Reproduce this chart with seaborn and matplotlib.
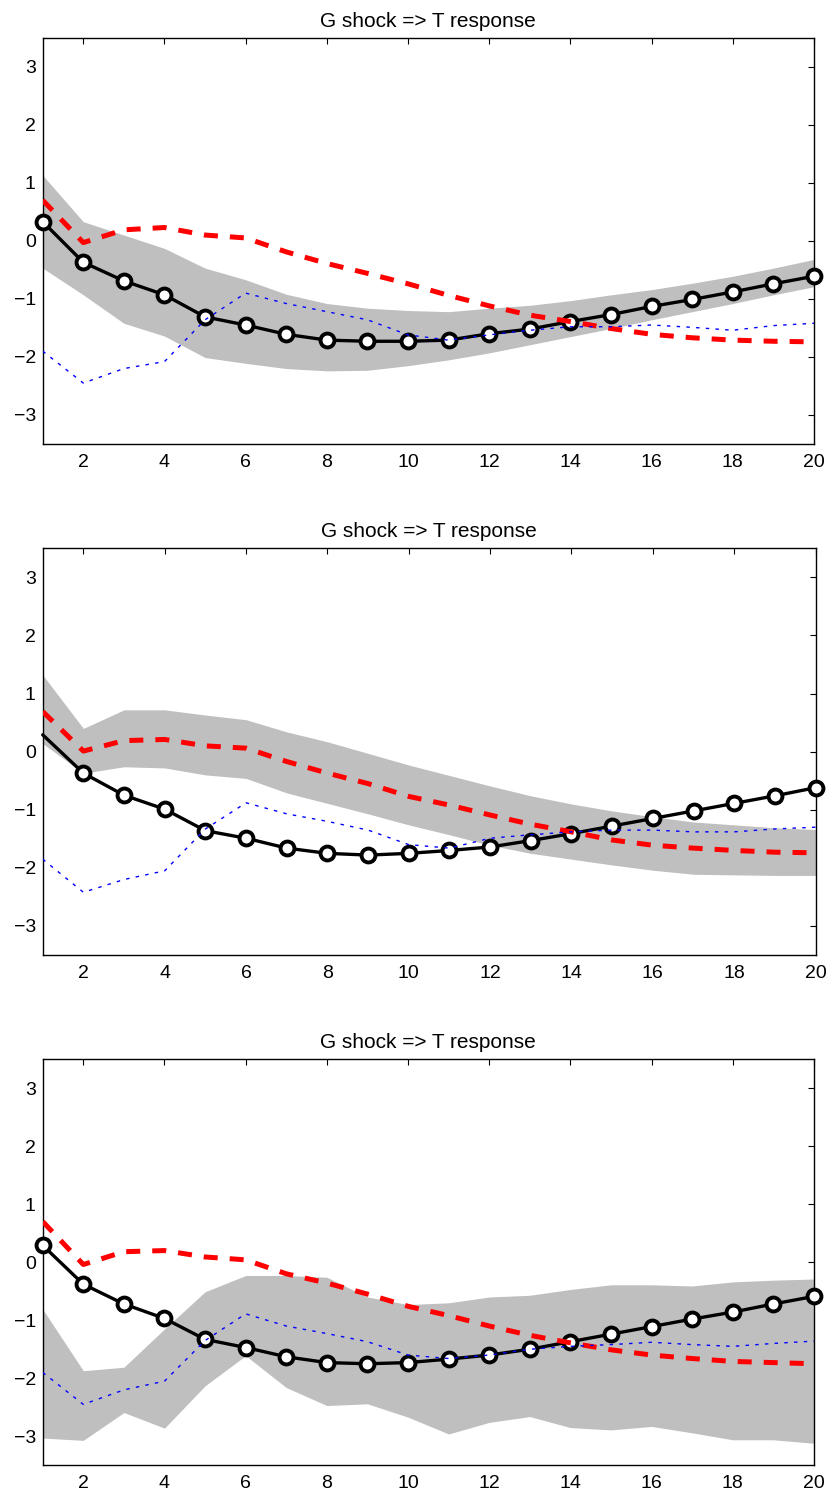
import numpy as np
import pandas as pd
import matplotlib
matplotlib.use("Agg")
import matplotlib.pyplot as plt
import seaborn as sns

# horizons
horizon = list(range(1, 21))

# point estimate (black line with circles)
resp_1 = [0.33, -0.37, -0.69, -0.93, -1.31, -1.45, -1.61, -1.71, -1.73, -1.73,
          -1.71, -1.60, -1.52, -1.39, -1.27, -1.13, -1.01, -0.88, -0.74, -0.61]
resp_2 = [0.29, -0.37, -0.75, -0.99, -1.36, -1.49, -1.66, -1.75, -1.78, -1.75,
          -1.70, -1.64, -1.53, -1.41, -1.28, -1.15, -1.02, -0.89, -0.76, -0.62]
resp_3 = [0.29, -0.38, -0.72, -0.97, -1.33, -1.47, -1.63, -1.73, -1.75, -1.73,
          -1.67, -1.60, -1.50, -1.37, -1.24, -1.11, -0.98, -0.86, -0.72, -0.59]

# red dashed comparison
red_1 = [0.70, -0.03, 0.19, 0.23, 0.10, 0.05, -0.19, -0.39, -0.56, -0.74,
         -0.94, -1.12, -1.28, -1.39, -1.51, -1.61, -1.67, -1.71, -1.73, -1.74]
red_2 = [0.69, 0.01, 0.19, 0.21, 0.10, 0.06, -0.17, -0.37, -0.55, -0.77,
         -0.92, -1.09, -1.25, -1.38, -1.52, -1.61, -1.66, -1.70, -1.73, -1.74]
red_3 = [0.70, -0.04, 0.18, 0.20, 0.09, 0.04, -0.20, -0.36, -0.55, -0.76,
         -0.92, -1.10, -1.26, -1.39, -1.51, -1.60, -1.66, -1.71, -1.73, -1.75]

# blue dotted comparison
blue_1 = [-1.90, -2.45, -2.20, -2.08, -1.36, -0.90, -1.08, -1.22, -1.36, -1.62,
          -1.71, -1.62, -1.54, -1.48, -1.48, -1.45, -1.49, -1.54, -1.46, -1.42]
blue_2 = [-1.85, -2.42, -2.20, -2.05, -1.33, -0.88, -1.07, -1.20, -1.35, -1.60,
          -1.66, -1.49, -1.43, -1.38, -1.35, -1.35, -1.38, -1.38, -1.33, -1.30]
blue_3 = [-1.90, -2.45, -2.20, -2.05, -1.35, -0.89, -1.10, -1.23, -1.37, -1.60,
          -1.66, -1.60, -1.50, -1.45, -1.42, -1.38, -1.42, -1.45, -1.40, -1.36]

# confidence bands
upper_1 = [1.13, 0.33, 0.10, -0.13, -0.47, -0.67, -0.92, -1.08, -1.16, -1.20,
           -1.22, -1.16, -1.11, -1.03, -0.93, -0.84, -0.73, -0.61, -0.47, -0.32]
lower_1 = [-0.47, -0.93, -1.42, -1.64, -2.01, -2.11, -2.20, -2.24, -2.23, -2.15,
           -2.05, -1.93, -1.79, -1.65, -1.51, -1.36, -1.22, -1.08, -0.93, -0.79]
upper_2 = [1.32, 0.40, 0.72, 0.72, 0.63, 0.55, 0.34, 0.17, -0.03, -0.23,
           -0.41, -0.59, -0.76, -0.90, -1.02, -1.12, -1.21, -1.26, -1.31, -1.34]
lower_2 = [0.14, -0.37, -0.26, -0.28, -0.40, -0.46, -0.71, -0.89, -1.07, -1.26,
           -1.43, -1.61, -1.75, -1.85, -1.95, -2.04, -2.11, -2.12, -2.13, -2.13]
upper_3 = [-0.81, -1.87, -1.81, -1.15, -0.51, -0.23, -0.23, -0.26, -0.60, -0.73,
           -0.70, -0.60, -0.57, -0.47, -0.39, -0.39, -0.41, -0.34, -0.31, -0.29]
lower_3 = [-3.03, -3.07, -2.59, -2.86, -2.13, -1.61, -2.16, -2.47, -2.44, -2.67,
           -2.96, -2.76, -2.66, -2.85, -2.89, -2.83, -2.94, -3.06, -3.06, -3.12]

title = "G shock => T response"
y_ticks = [-3, -2, -1, 0, 1, 2, 3]
y_labels = ["\u22123", "\u22122", "\u22121", "0", "1", "2", "3"]
x_ticks = list(range(2, 21, 2))

sns.set_theme(style="white")
plt.rcParams["font.family"] = ["Liberation Sans", "DejaVu Sans"]

fig = plt.figure(figsize=(8.31, 14.96), dpi=100, facecolor="white")
boxes = [(0.0514, 0.7032, 0.9281, 0.2716),
         (0.0514, 0.3616, 0.9300, 0.2719),
         (0.0514, 0.0205, 0.9281, 0.2716)]

panels = [
    (resp_1, red_1, blue_1, upper_1, lower_1, 0),
    (resp_2, red_2, blue_2, upper_2, lower_2, 1),
    (resp_3, red_3, blue_3, upper_3, lower_3, 0),
]

for box, (resp, red, blue, up, lo, first_mark) in zip(boxes, panels):
    ax = fig.add_axes(box)
    df = pd.DataFrame({"h": horizon, "resp": resp, "red": red, "blue": blue,
                       "up": up, "lo": lo})
    ax.fill_between(df["h"], df["lo"], df["up"], color="#bfbfbf", linewidth=0, zorder=1)
    sns.lineplot(data=df, x="h", y="resp", ax=ax, color="black", linewidth=2.4,
                 marker="o", markersize=10, markerfacecolor="white",
                 markeredgecolor="black", markeredgewidth=2.8,
                 markevery=list(range(first_mark, 20)), zorder=3, clip_on=False)
    sns.lineplot(data=df, x="h", y="red", ax=ax, color="red", linewidth=3.6,
                 linestyle=(0, (2.8, 2.4)), zorder=4)
    sns.lineplot(data=df, x="h", y="blue", ax=ax, color="blue", linewidth=1,
                 linestyle=(0, (2.5, 4.5)), zorder=5)
    ax.set_xlim(1, 20)
    ax.set_ylim(-3.5, 3.5)
    ax.set_xticks(x_ticks)
    ax.set_yticks(y_ticks)
    ax.set_yticklabels(y_labels)
    ax.set_xlabel("")
    ax.set_ylabel("")
    ax.tick_params(axis="both", which="both", direction="in", length=4.5, width=0.8,
                   top=True, right=True, labelsize=14, colors="black")
    ax.tick_params(axis="y", pad=5)
    ax.tick_params(axis="x", pad=7)
    for s in ax.spines.values():
        s.set_color("black")
        s.set_linewidth(1.0)
        s.set_visible(True)
    ax.set_title(title, fontsize=15, pad=8, color="black")

fig.savefig("out.png", dpi=100, facecolor="white")
